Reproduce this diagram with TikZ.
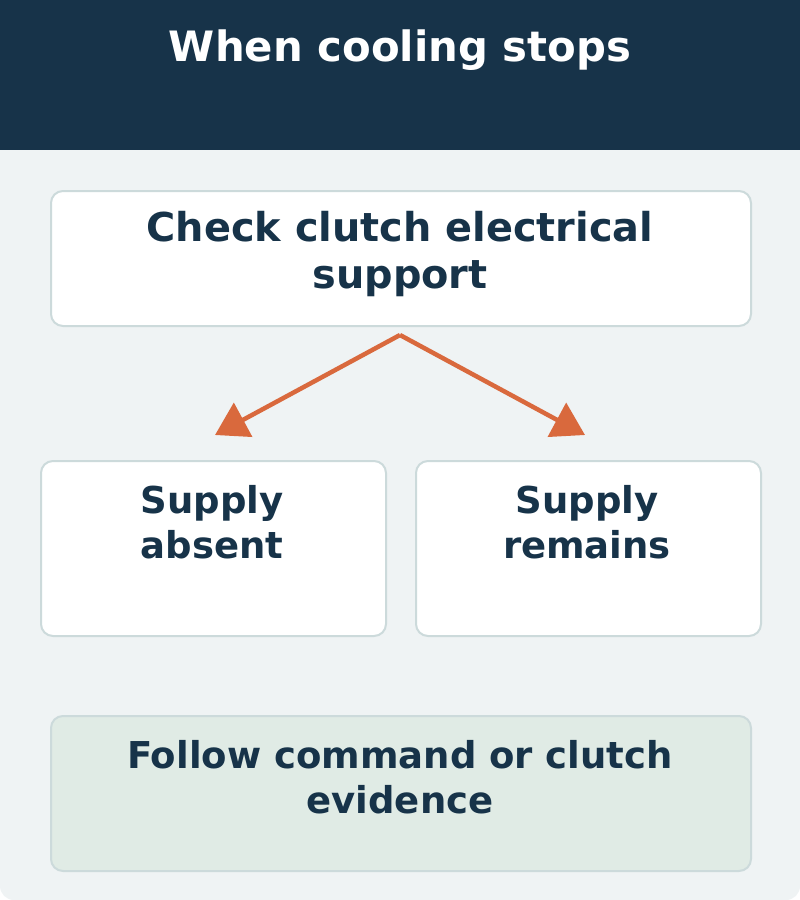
\documentclass[tikz,border=0pt]{standalone}
\usepackage{fontspec}
\setmainfont{DejaVu Sans}
\usetikzlibrary{positioning, arrows.meta, calc}
\definecolor{navy}{HTML}{173349}
\definecolor{paper}{HTML}{EFF3F4}
\definecolor{edge}{HTML}{CCDADB}
\definecolor{rust}{HTML}{D9693D}
\definecolor{sage}{HTML}{E0EBE5}
\tikzset{
  card/.style={draw=edge, line width=2pt, rounded corners=12pt, fill=white, anchor=north west},
  label/.style={text=navy, font=\fontsize{39.8}{47}\selectfont\bfseries, align=center},
  small label/.style={label, font=\fontsize{37}{44.5}\selectfont\bfseries},
  flow/.style={draw=rust, line width=4.5pt, -{Triangle[length=32pt, width=38pt]}}
}
\begin{document}
\begin{tikzpicture}[x=1pt, y=-1pt]
\useasboundingbox (0,0) rectangle (800,900);
% page and header
\fill[paper, rounded corners=14pt] (0,0) rectangle (800,900);
\fill[navy] (0,0) rectangle (800,150);
\node[text=white, font=\fontsize{41.8}{48}\selectfont\bfseries] (title) at (400,50) {When cooling stops};

% cards
\node[card, minimum width=700pt, minimum height=135pt] (check) at (50,190) {};
\node[label] (checkT) at (400,254) {Check clutch electrical\\support};
\node[card, minimum width=345pt, minimum height=175pt] (absent) at (40,460) {};
\node[small label] (absentT) at (212,522) {Supply\\absent};
\node[card, minimum width=345pt, minimum height=175pt] (remains) at (415,460) {};
\node[small label] (remainsT) at (587,522) {Supply\\remains};
\node[card, fill=sage, minimum width=700pt, minimum height=155pt] (follow) at (50,715) {};
\node[small label] (followT) at (400,777) {Follow command or clutch\\evidence};

% branches
\coordinate (fork) at (400,335);
\coordinate (leftEnd) at (215,435);
\coordinate (rightEnd) at (585,435);
\draw[flow] (fork) -- (leftEnd);
\draw[flow] (fork) -- (rightEnd);
\end{tikzpicture}
\end{document}
